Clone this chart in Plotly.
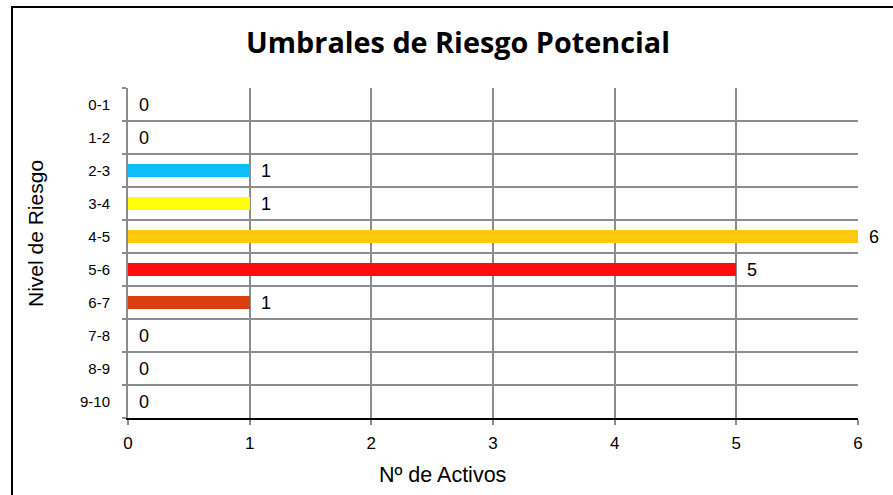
import plotly.graph_objects as go

categories = ["0-1", "1-2", "2-3", "3-4", "4-5", "5-6", "6-7", "7-8", "8-9", "9-10"]
values = [0, 0, 1, 1, 6, 5, 1, 0, 0, 0]
bar_colors = ["#0DBEFF", "#0DBEFF", "#0DBEFF", "#FFFF0A", "#FFC90D", "#FF0D0D", "#D9400F", "#D9400F", "#D9400F", "#D9400F"]
x_ticks = [0, 1, 2, 3, 4, 5, 6]

title_text = "Umbrales de Riesgo Potencial"
x_title = "Nº de Activos"
y_title = "Nivel de Riesgo"

W, H = 893, 495
L, R, T, B = 128, 35, 88, 77
pw, ph = W - L - R, H - T - B

def px_x(p):
    return (p - L) / pw

def px_y(p):
    return (H - B - p) / ph

pos = [i + 0.5 for i in range(len(categories))]

FONT = "Liberation Sans, Arial, sans-serif"
GRID = "#8C8C8C"

fig = go.Figure()
fig.add_trace(go.Bar(
    x=values, y=pos, orientation="h", width=0.38,
    marker=dict(color=bar_colors, line=dict(width=0)),
    hoverinfo="skip", showlegend=False,
))

annotations = []
for v, p in zip(values, pos):
    annotations.append(dict(
        x=v, y=p, xref="x", yref="y", text=str(v), showarrow=False,
        xanchor="left", yanchor="middle", xshift=9,
        font=dict(family=FONT, size=18, color="#000"),
    ))

annotations.append(dict(
    x=px_x(442), y=px_y(475), xref="paper", yref="paper", text=x_title,
    showarrow=False, xanchor="center", yanchor="middle",
    font=dict(family=FONT, size=21.5, color="#000"),
))
annotations.append(dict(
    x=px_x(35), y=px_y(234), xref="paper", yref="paper", text=y_title,
    showarrow=False, xanchor="center", yanchor="middle", textangle=-90,
    font=dict(family=FONT, size=21, color="#000"),
))

fig.update_layout(
    width=W, height=H,
    margin=dict(l=L, r=R, t=T, b=B, pad=0),
    paper_bgcolor="white", plot_bgcolor="white",
    title=dict(text="<b>" + title_text + "</b>", x=458 / W, xref="container", xanchor="center",
               y=1 - 43 / H, yref="container", yanchor="middle",
               font=dict(family="Open Sans, sans-serif", size=28.8, color="#000")),
    annotations=annotations,
    shapes=[dict(type="path", xref="paper", yref="paper",
                 path=f"M {px_x(12)},{px_y(500)} L {px_x(12)},{px_y(7)} L {px_x(900)},{px_y(7)}",
                 line=dict(color="#000", width=2))],
    bargap=0,
)

fig.update_xaxes(
    range=[0, 6], tickvals=x_ticks, showgrid=True, gridcolor=GRID, gridwidth=2,
    zeroline=False, showline=True, linecolor="#000", linewidth=1.5,
    ticks="outside", ticklen=5, tickcolor=GRID, tickwidth=1.5,
    ticklabelstandoff=4,
    tickfont=dict(family=FONT, size=17, color="#000"),
)
fig.update_yaxes(
    range=[10, 0], tickvals=pos, ticktext=categories,
    showgrid=False, zeroline=False, showline=True, linecolor=GRID, linewidth=2,
    ticks="outside", ticklen=0, ticklabelstandoff=13,
    tickfont=dict(family=FONT, size=15, color="#000"),
    minor=dict(tick0=0, dtick=1, showgrid=True, gridcolor=GRID, gridwidth=2,
               ticks="outside", ticklen=4, tickcolor=GRID, tickwidth=1.5),
)

fig.write_html("out.html")
